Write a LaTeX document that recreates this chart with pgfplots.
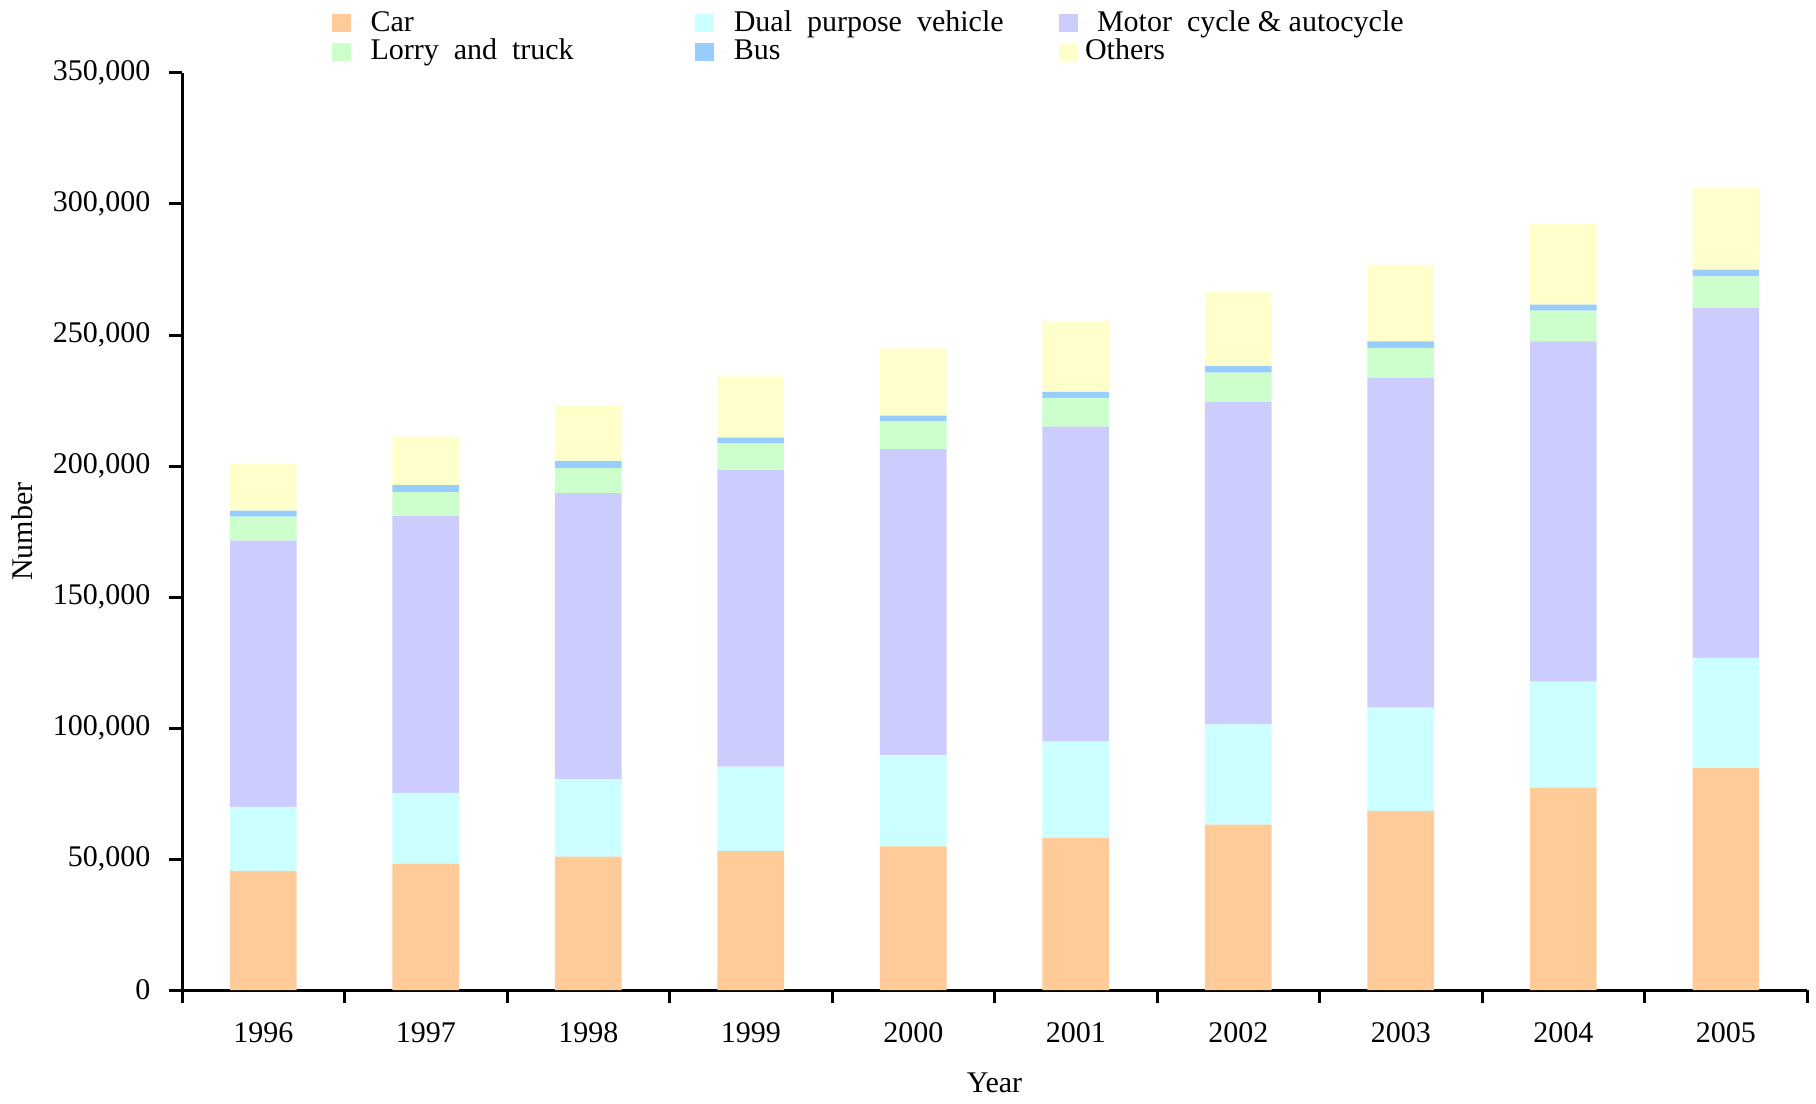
\documentclass[border=0pt]{standalone}
\usepackage{fontspec}
\setmainfont{Liberation Serif}
\usepackage{pgfplots}
\usepackage{pgfplotstable}
\pgfplotsset{compat=1.18}
\definecolor{cCar}{HTML}{FFCC99}
\definecolor{cDual}{HTML}{CCFFFF}
\definecolor{cMotor}{HTML}{CCCCFF}
\definecolor{cLorry}{HTML}{CCFFCC}
\definecolor{cBus}{HTML}{99CCFF}
\definecolor{cOthers}{HTML}{FFFFCC}
\pgfplotstableread{
x car dual motor lorry bus others
0 45500 24400 101600 9200 2300 17800
1 48200 27100 105600 9100 2700 18500
2 50900 29500 109300 9600 2700 21200
3 53000 32300 113100 10200 2200 23400
4 54800 34900 116700 10600 2200 25600
5 58000 36800 120200 11000 2300 27100
6 63100 38300 123100 11100 2500 28300
7 68400 39400 125700 11600 2500 29200
8 77300 40400 129900 11700 2300 30900
9 84700 42100 133500 12100 2600 31200
}\datatable
\begin{document}
\begin{tikzpicture}[font=\fontsize{10pt}{12pt}\selectfont]
\begin{axis}[
  scale only axis, width=541.7pt, height=305.7pt,
  ybar stacked, bar width=0.41,
  xmin=-0.5, xmax=9.5, ymin=0, ymax=350000,
  axis lines=left, axis line style={-, line width=1pt},
  xtick={0,...,9},
  xticklabels={1996,1997,1998,1999,2000,2001,2002,2003,2004,2005},
  major x tick style={draw=none},
  minor xtick={-0.5,0.5,...,9.5},
  tick align=outside,
  ytick={0,50000,...,350000},
  major tick length=4.3pt, minor tick length=4.3pt,
  every tick/.style={line width=1pt, black},
  scaled y ticks=false,
  yticklabel style={xshift=-2.7pt, /pgf/number format/.cd, 1000 sep={,}, fixed},
  xticklabel style={yshift=-3pt},
  /pgf/number format/assume math mode=true,
  xlabel={Year}, ylabel={Number},
  xlabel style={yshift=-3pt},
  ylabel style={yshift=0pt},
  legend style={draw=none, fill=none, at={(0.092,1.075)}, anchor=north west,
    legend columns=3, inner sep=0pt, row sep=-3pt,
    font=\fontsize{10pt}{12pt}\selectfont},
  legend cell align=left,
  legend image code/.code={\fill[#1] (0pt,-3pt) rectangle (6.3pt,3pt); \path (0pt,0pt) -- (10.8pt,0pt);},
  every axis plot/.append style={draw=none},
]
\addplot[fill=cCar] table[x=x,y=car]{\datatable};
\addlegendentry{\makebox[106.3pt][l]{Car}}
\addplot[fill=cDual] table[x=x,y=dual]{\datatable};
\addlegendentry{\makebox[106.3pt][l]{Dual\ \ purpose\ \ vehicle}}
\addplot[fill=cMotor] table[x=x,y=motor]{\datatable};
\addlegendentry{\makebox[106.3pt][l]{Motor\ \ cycle \& autocycle}}
\addplot[fill=cLorry] table[x=x,y=lorry]{\datatable};
\addlegendentry{\makebox[106.3pt][l]{Lorry\ \ and\ \ truck}}
\addplot[fill=cBus] table[x=x,y=bus]{\datatable};
\addlegendentry{\makebox[106.3pt][l]{Bus}}
\addplot[fill=cOthers] table[x=x,y=others]{\datatable};
\addlegendentry{\makebox[106.3pt][l]{\hspace{-4pt}Others}}
\coordinate (bbSW) at (rel axis cs:-0.112,-0.1232);
\coordinate (bbNE) at (rel axis cs:1.0055,1.0796);
\end{axis}
\pgfresetboundingbox
\path[use as bounding box] (bbSW) rectangle (bbNE);
\end{tikzpicture}
\end{document}
